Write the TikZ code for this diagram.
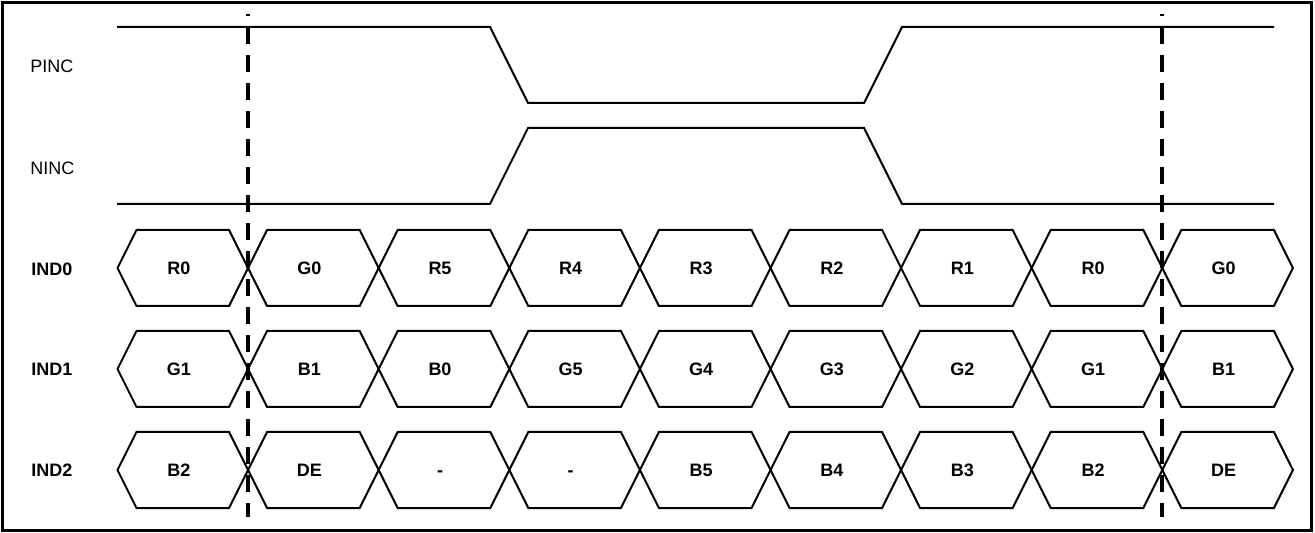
\documentclass[tikz,border=0pt]{standalone}
\usepackage{fontspec}
\setmainfont{Liberation Sans}

\begin{document}
\begin{tikzpicture}[x=0.5pt, y=-0.5pt,
	sig/.style={line width=1pt, line join=miter},
	bus/.style={line width=1pt, line join=miter},
	marker/.style={line width=1.8pt, dash pattern=on 8.5pt off 5.5pt, dash phase=7.5pt},
	lbl/.style={anchor=west, inner sep=0pt, font=\fontsize{9}{10}\selectfont},
	buslbl/.style={lbl, font=\fontsize{9}{10}\selectfont\bfseries},
	cell/.style={anchor=base, inner sep=0pt, font=\fontsize{9}{10}\selectfont\bfseries}]
	
	\useasboundingbox (0,0) rectangle (1315,533);
	\draw[line width=1.5pt] (2.5,2.5) rectangle (1311.5,530.5);
	
	\node[lbl] (pinc) at (30,66)  {PINC};
	\node[lbl] (ninc) at (30,168) {NINC};
	\node[buslbl] (ind0) at (31,269) {IND0};
	\node[buslbl] (ind1) at (31,369) {IND1};
	\node[buslbl] (ind2) at (31,470) {IND2};
	
	\draw[sig] (117,27) -- (490,27) -- (528,103) -- (864,103) -- (902,27) -- (1274,27);
	\draw[sig] (117,204) -- (490,204) -- (528,128) -- (864,128) -- (902,204) -- (1274,204);
	
	\foreach \lab [count=\i from 0] in {R0,G0,R5,R4,R3,R2,R1,R0,G0} {
		\pgfmathsetmacro\xa{117.5+130.6*\i}
		\draw[bus] (\xa,268) -- (\xa+19,230) -- (\xa+111.6,230) -- (\xa+130.6,268) -- (\xa+111.6,306) -- (\xa+19,306) -- cycle;
		\node[cell] (ind0-\i) at (\xa+61.3,274.5) {\lab};
	}
	
	\foreach \lab [count=\i from 0] in {G1,B1,B0,G5,G4,G3,G2,G1,B1} {
		\pgfmathsetmacro\xa{117.5+130.6*\i}
		\draw[bus] (\xa,369) -- (\xa+19,331) -- (\xa+111.6,331) -- (\xa+130.6,369) -- (\xa+111.6,407) -- (\xa+19,407) -- cycle;
		\node[cell] (ind1-\i) at (\xa+61.3,375.5) {\lab};
	}
	
	\foreach \lab [count=\i from 0] in {B2,DE,-,-,B5,B4,B3,B2,DE} {
		\pgfmathsetmacro\xa{117.5+130.6*\i}
		\draw[bus] (\xa,470) -- (\xa+19,432) -- (\xa+111.6,432) -- (\xa+130.6,470) -- (\xa+111.6,508) -- (\xa+19,508) -- cycle;
		\node[cell] (ind2-\i) at (\xa+61.3,476.5) {\lab};
	}
	
	\draw[marker] (248,14) -- (248,517);
	\draw[marker] (1162,14) -- (1162,517);

\end{tikzpicture}
\end{document}
